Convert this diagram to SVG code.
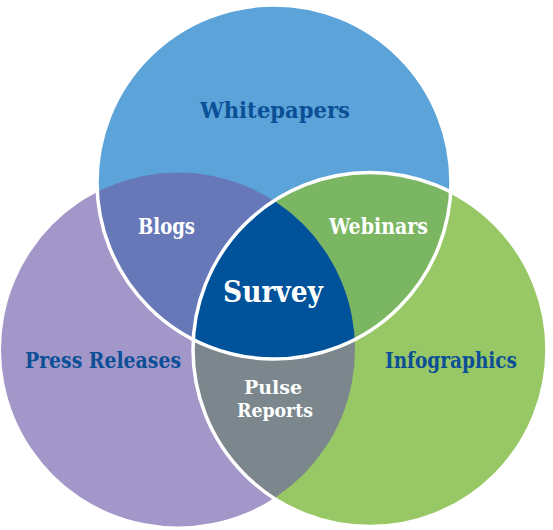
<svg xmlns="http://www.w3.org/2000/svg" width="553" height="530" viewBox="0 0 553 530">
  <style>
    .lbl { font-family: "DejaVu Serif Condensed", "DejaVu Serif", serif; font-weight: bold; text-anchor: middle; }
    .dark { fill: #0b4f97; }
    .light { fill: #ffffff; }
    .outline { fill: none; stroke: #ffffff; stroke-width: 3.5; }
  </style>
  <defs>
    <clipPath id="clipBlue"><circle cx="274" cy="182" r="177"/></clipPath>
    <clipPath id="clipPurple"><circle cx="178" cy="349.5" r="177"/></clipPath>
  </defs>

  <g id="press-releases">
    <circle cx="178" cy="349.5" r="177" fill="#a396c8"/>
  </g>
  <g id="infographics">
    <circle cx="370" cy="349.5" r="177" fill="#98c865"/>
  </g>
  <g id="whitepapers">
    <circle cx="274" cy="182" r="177" fill="#5ba3d9"/>
  </g>
  <g id="blogs">
    <circle cx="178" cy="349.5" r="177" fill="#6678b8" clip-path="url(#clipBlue)"/>
  </g>
  <g id="webinars">
    <circle cx="370" cy="349.5" r="177" fill="#7bb662" clip-path="url(#clipBlue)"/>
  </g>
  <g id="pulse-reports">
    <circle cx="370" cy="349.5" r="177" fill="#7b878c" clip-path="url(#clipPurple)"/>
  </g>
  <g id="survey">
    <g clip-path="url(#clipBlue)">
      <circle cx="370" cy="349.5" r="177" fill="#00529b" clip-path="url(#clipPurple)"/>
    </g>
  </g>

  <g id="connectors">
    <circle class="outline" cx="274" cy="182" r="177"/>
    <circle class="outline" cx="370" cy="349.5" r="177"/>
  </g>

  <g id="labels">
    <text class="lbl dark" x="275" y="118" font-size="23" textLength="150" lengthAdjust="spacingAndGlyphs">Whitepapers</text>
    <text class="lbl light" x="166.5" y="234" font-size="22" textLength="57" lengthAdjust="spacingAndGlyphs">Blogs</text>
    <text class="lbl light" x="378.5" y="234" font-size="22" textLength="99" lengthAdjust="spacingAndGlyphs">Webinars</text>
    <text class="lbl light" x="273" y="302" font-size="30" textLength="100" lengthAdjust="spacingAndGlyphs">Survey</text>
    <text class="lbl dark" x="103" y="368" font-size="21.5" textLength="156" lengthAdjust="spacingAndGlyphs">Press Releases</text>
    <text class="lbl dark" x="451" y="368" font-size="21.5" textLength="132" lengthAdjust="spacingAndGlyphs">Infographics</text>
    <text class="lbl light" x="273" y="394" font-size="19" textLength="58" lengthAdjust="spacingAndGlyphs">Pulse</text>
    <text class="lbl light" x="275" y="417" font-size="19" textLength="76" lengthAdjust="spacingAndGlyphs">Reports</text>
  </g>
</svg>
